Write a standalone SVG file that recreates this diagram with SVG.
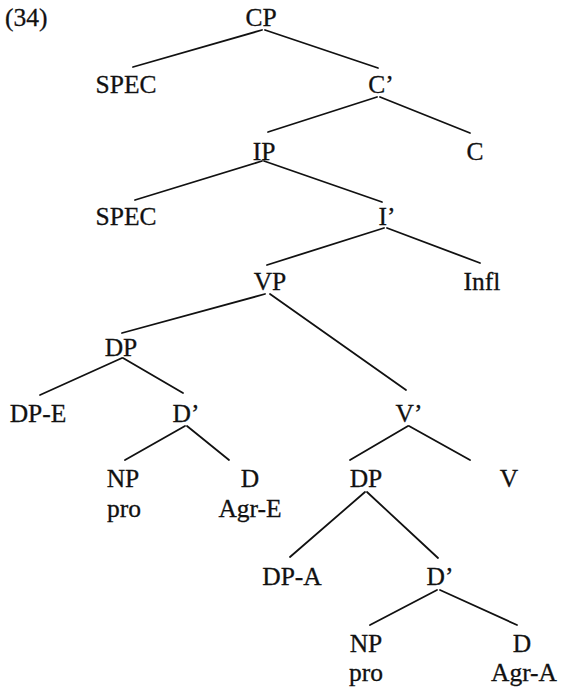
<svg xmlns="http://www.w3.org/2000/svg" width="561" height="689" viewBox="0 0 561 689">
<style>
text{font-family:"Liberation Serif","Times New Roman",serif;font-size:25.5px;fill:#111;stroke:#111;stroke-width:0.3;text-anchor:middle}
.lbl{text-anchor:start}
line{stroke:#111;stroke-width:1.8;stroke-linecap:round}
</style>
<rect width="561" height="689" fill="#fff"/>
<text class="lbl" x="5" y="26">(34)</text>
<g id="edges">
<line x1="262" y1="30" x2="133" y2="67"/>
<line x1="265" y1="30" x2="378" y2="68"/>
<line x1="377" y1="97" x2="268" y2="132"/>
<line x1="380" y1="97" x2="470" y2="133"/>
<line x1="262" y1="161" x2="135" y2="200"/>
<line x1="264" y1="161" x2="382" y2="202"/>
<line x1="384" y1="228" x2="267" y2="265"/>
<line x1="387" y1="228" x2="480" y2="263"/>
<line x1="265" y1="294" x2="122" y2="333"/>
<line x1="270" y1="294" x2="406" y2="390"/>
<line x1="122" y1="358" x2="40" y2="395"/>
<line x1="123" y1="358" x2="183" y2="393"/>
<line x1="185" y1="426" x2="125" y2="460"/>
<line x1="187" y1="426" x2="229" y2="460"/>
<line x1="408" y1="426" x2="350" y2="460"/>
<line x1="409" y1="426" x2="470" y2="460"/>
<line x1="365" y1="492" x2="290" y2="557"/>
<line x1="367" y1="492" x2="438" y2="558"/>
<line x1="437" y1="590" x2="370" y2="625"/>
<line x1="440" y1="590" x2="517" y2="625"/>
</g>
<g id="n-cp"><text x="261" y="26">CP</text></g>
<g id="n-spec1"><text x="126" y="93">SPEC</text></g>
<g id="n-cbar"><text x="381" y="93">C’</text></g>
<g id="n-ip"><text x="264" y="160">IP</text></g>
<g id="n-c"><text x="475" y="160">C</text></g>
<g id="n-spec2"><text x="126" y="225">SPEC</text></g>
<g id="n-ibar"><text x="387" y="225">I’</text></g>
<g id="n-vp"><text x="270" y="290">VP</text></g>
<g id="n-infl"><text x="482" y="290">Infl</text></g>
<g id="n-dp1"><text x="121" y="356">DP</text></g>
<g id="n-dpe"><text x="38" y="422">DP-E</text></g>
<g id="n-dbar1"><text x="186" y="422">D’</text></g>
<g id="n-vbar"><text x="409" y="422">V’</text></g>
<g id="n-np1"><text x="123" y="487">NP</text><text x="124" y="517">pro</text></g>
<g id="n-d1"><text x="250" y="487">D</text><text x="250" y="517">Agr-E</text></g>
<g id="n-dp2"><text x="366" y="487">DP</text></g>
<g id="n-v"><text x="509" y="487">V</text></g>
<g id="n-dpa"><text x="292" y="585">DP-A</text></g>
<g id="n-dbar2"><text x="440" y="585">D’</text></g>
<g id="n-np2"><text x="366" y="652">NP</text><text x="366" y="681">pro</text></g>
<g id="n-d2"><text x="522" y="652">D</text><text x="524" y="681">Agr-A</text></g>
</svg>
